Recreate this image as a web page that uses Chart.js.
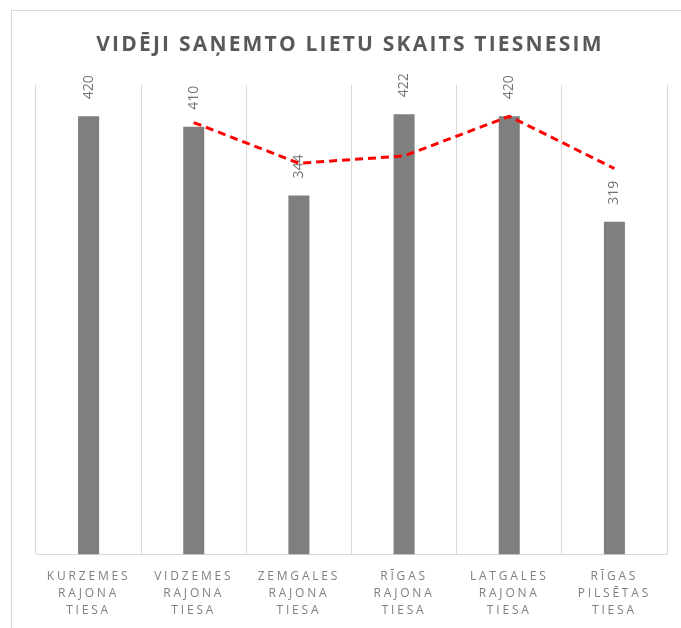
<!DOCTYPE html>
<html>
<head>
<meta charset="utf-8">
<script src="https://cdn.jsdelivr.net/npm/chart.js@4/dist/chart.umd.min.js"></script>
<style>
	html, body { margin: 0; padding: 0; background: #ffffff; }
	#wrap { width: 681px; height: 628px; }
</style>
</head>
<body>
<div id="wrap"><canvas id="chart1" width="681" height="628"></canvas></div>
<script>
var courts = [
	['KURZEMES', 'RAJONA', 'TIESA'],
	['VIDZEMES', 'RAJONA', 'TIESA'],
	['ZEMGALES', 'RAJONA', 'TIESA'],
	['RĪGAS', 'RAJONA', 'TIESA'],
	['LATGALES', 'RAJONA', 'TIESA'],
	['RĪGAS', 'PILSĒTAS', 'TIESA']
];
var casesPerJudge = [420, 410, 344, 422, 420, 319];
var trendLine = [null, 414, 375, 382, 420, 370];
var chartTitle = 'VIDĒJI SAŅEMTO LIETU SKAITS TIESNESIM';

// outer frame, title and letter spacing for the axis labels
var frameAndTitle = {
	id: 'frameAndTitle',
	beforeDraw: function(chart) {
		var ctx = chart.ctx;
		ctx.save();
		ctx.strokeStyle = '#d9d9d9';
		ctx.lineWidth = 1;
		ctx.strokeRect(11.5, 10.5, 700, 700);
		ctx.fillStyle = '#595959';
		ctx.font = 'bold 21px "Open Sans"';
		ctx.letterSpacing = '2.2px';
		ctx.textAlign = 'center';
		ctx.textBaseline = 'middle';
		ctx.fillText(chartTitle, 350, 45);
		ctx.restore();
		ctx.letterSpacing = '2.8px';
	},
	afterDraw: function(chart) {
		var ctx = chart.ctx;
		ctx.letterSpacing = '0px';
		// rotated value labels above the bars
		var meta = chart.getDatasetMeta(0);
		ctx.save();
		ctx.fillStyle = '#737373';
		ctx.font = '14px "Open Sans"';
		ctx.textAlign = 'left';
		ctx.textBaseline = 'middle';
		meta.data.forEach(function(bar, i) {
			ctx.save();
			ctx.translate(bar.x, bar.y - 17);
			ctx.rotate(-Math.PI / 2);
			ctx.fillText(String(casesPerJudge[i]), 0, 0);
			ctx.restore();
		});
		ctx.restore();
	}
};

var ctx = document.getElementById('chart1').getContext('2d');
var chart1 = new Chart(ctx, {
	type: 'bar',
	data: {
		labels: courts,
		datasets: [{
			type: 'bar',
			data: casesPerJudge,
			backgroundColor: '#7f7f7f',
			borderWidth: 0,
			barPercentage: 0.2,
			categoryPercentage: 1,
			order: 2
		}, {
			type: 'line',
			data: trendLine,
			borderColor: '#ff0000',
			borderWidth: 3,
			borderDash: [8, 5],
			pointRadius: 0,
			tension: 0,
			fill: false,
			order: 1
		}]
	},
	options: {
		responsive: false,
		animation: false,
		layout: { padding: { left: 36, right: 14, top: 85, bottom: -5 } },
		plugins: {
			legend: { display: false },
			title: { display: false },
			tooltip: { enabled: false }
		},
		scales: {
			x: {
				grid: { color: '#d9d9d9', offset: true, drawTicks: false },
				border: { color: '#d9d9d9' },
				ticks: {
					color: '#7f7f7f',
					font: { family: '"Open Sans"', size: 12, lineHeight: 1.4 },
					padding: 14,
					maxRotation: 0,
					autoSkip: false
				}
			},
			y: {
				display: false,
				min: 0,
				max: 450
			}
		}
	},
	plugins: [frameAndTitle]
});
</script>
</body>
</html>
